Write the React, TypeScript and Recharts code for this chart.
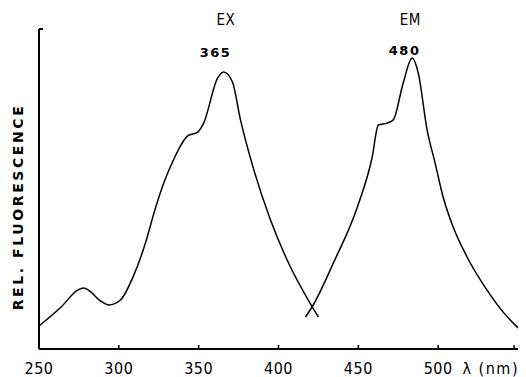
import * as React from "react";
import { LineChart, Line, XAxis, YAxis, ReferenceDot } from "recharts";

// excitation spectrum (nm / relative intensity)
const exNm = [250, 264, 274, 278, 282.5, 288, 293.8, 301, 309.4, 316.9, 321.9, 327.5, 334.4, 343.1, 349.4, 353.1, 361.9, 365.6, 371.1, 376.2, 384.6, 395, 405.4, 421.1, 425];
const exVal = [7.2, 13.2, 18.3, 19.1, 17.8, 15.2, 13.75, 15.3, 23.1, 33.5, 42.3, 51, 59.3, 66.6, 67.8, 70.6, 84.7, 86.6, 83.5, 71.6, 55.9, 40.3, 27.8, 13.2, 10];

// emission spectrum
const emNm = [416.9, 421.1, 434.4, 449.4, 458.7, 462.5, 468.1, 471.9, 478.1, 483.7, 487.5, 493.1, 498.1, 503.1, 509.4, 518.1, 530.6, 540.6, 550];
const emVal = [10, 13.2, 26.9, 44.4, 60, 70, 70.6, 71.6, 83.1, 90.9, 86.3, 68.4, 58.1, 47.5, 38.1, 28.75, 18.4, 11.6, 6.6];

const xTicks = [250, 300, 350, 400, 450, 500, 550];
const yTicks = [100];

const exData = exNm.map((nm, i) => ({ nm, v: exVal[i] }));
const emData = emNm.map((nm, i) => ({ nm, v: emVal[i] }));

const FONT = "'DejaVu Sans Condensed', 'DejaVu Sans', sans-serif";
const BOLD = "'DejaVu Sans', sans-serif";

const XTick = (props: any) => {
  const { x, y, payload } = props;
  const last = payload.value === 550;
  return (
    <g>
      <line x1={x} x2={x} y1={y} y2={y - 4} stroke="#000" strokeWidth={1.5} />
      <text
        x={last ? x + 5 : x}
        y={y + 25}
        textAnchor={last ? "end" : "middle"}
        fontFamily={FONT}
        fontSize={16}
        letterSpacing={last ? 1.5 : 0.5}
        fill="#000"
      >
        {last ? "λ (nm)" : payload.value}
      </text>
    </g>
  );
};

const YTick = (props: any) => {
  const { x, y } = props;
  return <line x1={x} x2={x + 4} y1={y} y2={y} stroke="#000" strokeWidth={2} />;
};

const YTitle = (props: any) => {
  const { viewBox } = props;
  const cx = viewBox.x + viewBox.width - 21;
  const cy = viewBox.y + viewBox.height / 2 + 18;
  return (
    <text
      x={cx}
      y={cy}
      transform={`rotate(-90 ${cx} ${cy})`}
      textAnchor="middle"
      dominantBaseline="central"
      fontFamily={BOLD}
      fontWeight="bold"
      fontSize={14}
      letterSpacing={2.6}
      fill="#000"
    >
      REL. FLUORESCENCE
    </text>
  );
};

const note = (text: string, bold: boolean) => (props: any) => {
  const { viewBox } = props;
  return (
    <text
      x={viewBox.x}
      y={viewBox.y}
      textAnchor="middle"
      dominantBaseline="central"
      fontFamily={bold ? BOLD : FONT}
      fontWeight={bold ? "bold" : "normal"}
      fontSize={bold ? 13 : 15}
      letterSpacing={bold ? 1.5 : 0.5}
      fill="#000"
    >
      {text}
    </text>
  );
};

export default function App() {
  return (
    <LineChart width={518} height={369} margin={{ top: 21, left: 0, right: 8, bottom: 8 }}>
      <XAxis
        type="number"
        dataKey="nm"
        domain={[250, 550]}
        ticks={xTicks}
        allowDataOverflow
        height={20}
        tickSize={0}
        tickMargin={0}
        tick={<XTick />}
        axisLine={{ stroke: "#000", strokeWidth: 2 }}
      />
      <YAxis
        type="number"
        domain={[0, 100]}
        ticks={yTicks}
        width={31}
        tickSize={0}
        tickMargin={0}
        tick={<YTick />}
        axisLine={{ stroke: "#000", strokeWidth: 2 }}
        label={<YTitle />}
      />
      <Line data={exData} dataKey="v" type="monotone" stroke="#000" strokeWidth={1.5} dot={false} isAnimationActive={false} />
      <Line data={emData} dataKey="v" type="monotone" stroke="#000" strokeWidth={1.5} dot={false} isAnimationActive={false} />
      <ReferenceDot x={367} y={102.7} r={0} ifOverflow="visible" label={note("EX", false)} />
      <ReferenceDot x={482.5} y={102.7} r={0} ifOverflow="visible" label={note("EM", false)} />
      <ReferenceDot x={360.6} y={92.6} r={0} ifOverflow="visible" label={note("365", true)} />
      <ReferenceDot x={479} y={93.3} r={0} ifOverflow="visible" label={note("480", true)} />
    </LineChart>
  );
}
